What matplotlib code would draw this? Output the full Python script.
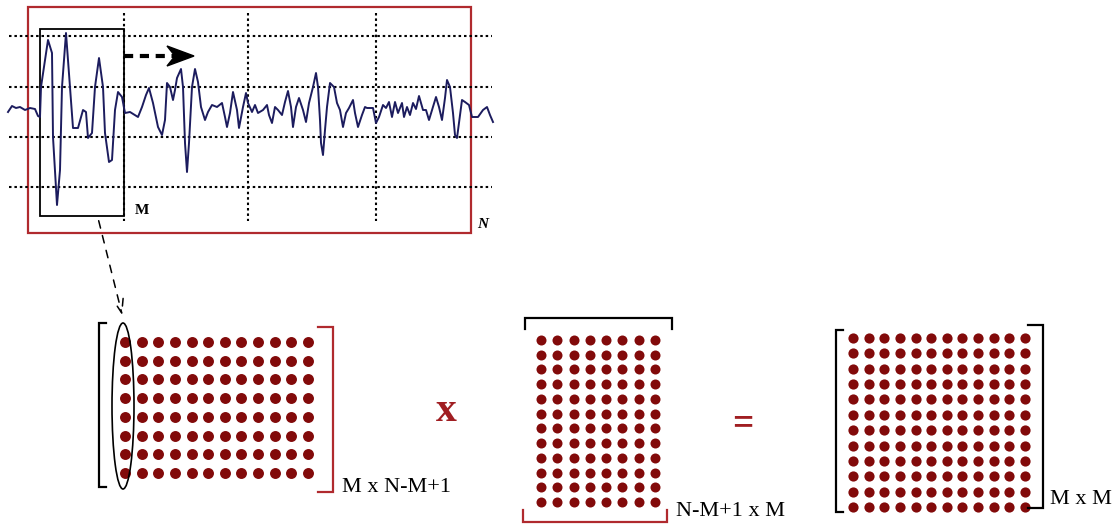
import numpy as np
import matplotlib
matplotlib.use("Agg")
import matplotlib.pyplot as plt
from matplotlib.patches import Rectangle, Ellipse, Polygon

# waveform (pixel x, pixel y)
sig_x = [8, 12, 16, 20, 25, 30, 35, 38, 40, 41, 45, 48, 52, 53, 57, 60, 62, 66, 70, 73, 78, 83, 86, 88, 92,
         95, 99, 103, 105, 109, 112, 115, 118, 122, 125, 130, 138, 142, 146, 149, 153, 158, 162, 165, 167,
         170, 173, 175, 177, 181, 183, 185, 187, 189, 192, 195, 198, 201, 205, 208, 212, 217, 222, 225, 227,
         230, 233, 237, 239, 243, 246, 248, 252, 255, 258, 263, 267, 269, 272, 275, 278, 282, 285, 288, 291,
         293, 296, 299, 303, 306, 309, 313, 316, 318, 320, 321, 323, 325, 327, 330, 334, 337, 340, 343, 346,
         349, 353, 355, 358, 362, 365, 367, 373, 376, 379, 383, 386, 389, 392, 395, 398, 402, 404, 407, 410,
         413, 416, 419, 423, 426, 429, 433, 436, 439, 442, 445, 447, 450, 453, 455, 457, 459, 462, 465, 469,
         472, 478, 483, 487, 490, 493]
sig_y = [112, 106, 108, 107, 110, 108, 109, 116, 117, 87, 60, 40, 53, 137, 205, 170, 87, 33, 87, 128, 128, 110,
         112, 138, 133, 87, 58, 87, 133, 162, 160, 110, 92, 97, 113, 112, 117, 107, 95, 88, 103, 127, 135, 120,
         83, 87, 100, 90, 78, 69, 87, 143, 172, 143, 87, 69, 82, 107, 120, 112, 105, 107, 103, 117, 127,
         113, 92, 110, 128, 107, 93, 103, 112, 105, 113, 110, 105, 115, 123, 107, 110, 115, 102, 91, 107,
         127, 107, 98, 110, 122, 103, 87, 73, 87, 120, 143, 155, 130, 107, 83, 87, 103, 110, 127, 113,
         108, 100, 113, 127, 115, 107, 108, 108, 123, 117, 105, 108, 102, 117, 102, 113, 103, 117, 107, 115,
         103, 109, 96, 110, 110, 120, 107, 97, 107, 120, 98, 80, 87, 113, 135, 138, 123, 100, 102, 105,
         117, 117, 110, 107, 115, 122]

grid_rows = [36, 87, 137, 187]
grid_cols = [124, 248, 376]

# matrix sizes (rows, cols)
m1_shape = (8, 12)
m2_shape = (12, 8)
m3_shape = (12, 12)

label1 = "M x N-M+1"
label2 = "N-M+1 x M"
label3 = "M x M"

dot_c = "#820a0a"
red_c = "#b02a2e"
serif = ["Liberation Serif", "DejaVu Serif"]

fig = plt.figure(figsize=(11.18, 5.25), dpi=100)
ax = fig.add_axes([0, 0, 1, 1])
ax.set_xlim(0, 1118)
ax.set_ylim(525, 0)
ax.axis("off")

# signal panel
for gy in grid_rows:
    ax.plot([9, 492], [gy, gy], ls=(0, (1.2, 1.4)), color="black", lw=1.5)
for gx in grid_cols:
    ax.plot([gx, gx], [13, 221], ls=(0, (1.2, 1.4)), color="black", lw=1.5)
ax.add_patch(Rectangle((28, 7), 443, 226, fill=False, ec=red_c, lw=1.6))
ax.plot(sig_x, sig_y, color="#1c1c5e", lw=1.4)
ax.add_patch(Rectangle((40, 29), 84, 187, fill=False, ec="black", lw=1.3))
ax.text(135, 211, "M", fontsize=11, fontweight="bold", family=serif, va="center")
ax.text(477, 225, "N", fontsize=11, fontweight="bold", style="italic", family=serif, va="center")

# sliding arrow
ax.plot([124, 176], [56, 56], ls=(0, (2.2, 1.6)), color="black", lw=3)
ax.add_patch(Polygon([(167, 46), (194, 56), (167, 66), (175, 56)], closed=True, fc="black", ec="black"))
# window -> matrix column
ax.annotate("", xy=(123, 318), xytext=(98, 218),
            arrowprops=dict(arrowstyle="->,head_length=1.0,head_width=0.35", color="black",
                            lw=1.1, ls=(0, (5, 5))))


def dots(x0, x1, y0, y1, shape, size):
    r, c = shape
    xx, yy = np.meshgrid(np.linspace(x0, x1, c), np.linspace(y0, y1, r))
    ax.scatter(xx.ravel(), yy.ravel(), s=size, c=dot_c, marker="o", linewidths=0)


def vbracket(x, y0, y1, arm, color):
    ax.plot([x + arm, x, x, x + arm], [y0, y0, y1, y1], color=color, lw=1.6,
            solid_joinstyle="miter")


def hbracket(y, x0, x1, arm, color):
    ax.plot([x0, x0, x1, x1], [y + arm, y, y, y + arm], color=color, lw=1.6,
            solid_joinstyle="miter")


# matrix 1
dots(125, 308, 342, 473, m1_shape, 62)
vbracket(99, 323, 487, 7, "black")
vbracket(333, 327, 492, -15, red_c)
ax.add_patch(Ellipse((123, 406), 22, 166, fill=False, ec="black", lw=1.2))
ax.text(342, 487, label1, fontsize=16, family=serif, va="center")
ax.text(446, 411, "x", fontsize=30, family=serif, color="#a01e22", fontweight="bold",
        ha="center", va="center")

# matrix 2
dots(541, 655, 340, 502, m2_shape, 52)
hbracket(318, 525, 672, 11, "black")
hbracket(522, 523, 667, -12, red_c)
ax.text(676, 512, label2, fontsize=16, family=serif, va="center")
ax.text(743, 424, "=", fontsize=27, family=serif, color="#a01e22", fontweight="bold",
        ha="center", va="center")

# matrix 3
dots(853, 1025, 338, 507, m3_shape, 54)
vbracket(836, 330, 512, 7, "black")
vbracket(1043, 325, 508, -15, "black")
ax.text(1050, 500, label3, fontsize=16, family=serif, va="center")

fig.savefig("out.png", dpi=100)
